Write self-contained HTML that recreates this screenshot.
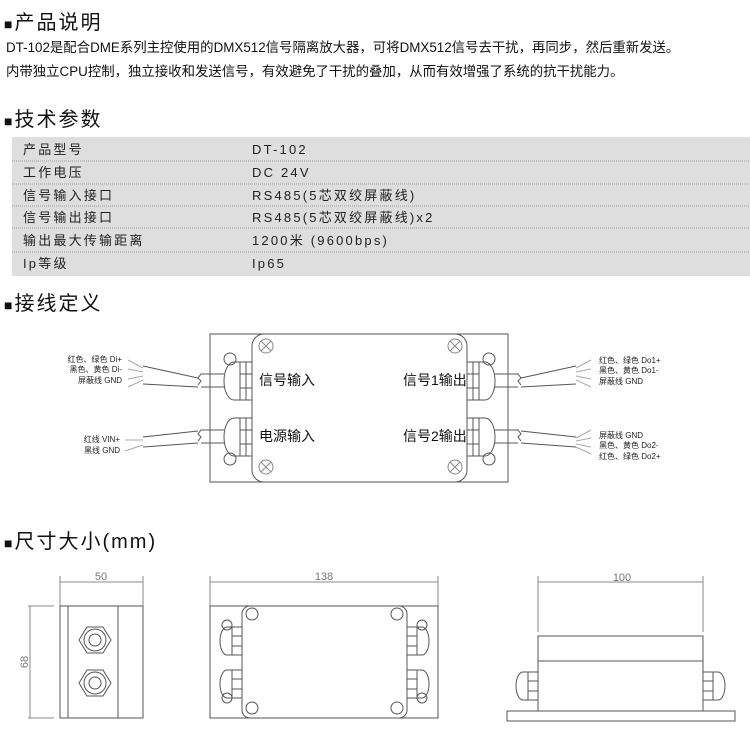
<!DOCTYPE html>
<html><head><meta charset="utf-8"><style>
body{margin:0;background:#fff;width:750px;height:752px;overflow:hidden}
svg{display:block}
.h{font-family:"Liberation Sans","Noto Sans CJK SC",sans-serif;font-size:20px;fill:#111;letter-spacing:2px}
.sq{font-size:14px}
.p{font-family:"Liberation Sans","Noto Sans CJK SC",sans-serif;font-size:13.4px;fill:#111}
.t{font-family:"Liberation Sans","Noto Sans CJK SC",sans-serif;font-size:13px;fill:#222;letter-spacing:2.2px}
.s{font-family:"Liberation Sans","Noto Sans CJK SC",sans-serif;font-size:8px;fill:#222}
.l{font-family:"Liberation Sans","Noto Sans CJK SC",sans-serif;font-size:14px;fill:#111}
.d{font-family:"Liberation Sans",sans-serif;font-size:11px;fill:#777}
.k{fill:none;stroke:#555;stroke-width:1}
.g{fill:none;stroke:#888;stroke-width:1}
</style></head><body>
<svg width="750" height="752" viewBox="0 0 750 752">
<text class="h" x="4" y="29"><tspan class="sq">■</tspan>产品说明</text>
<text class="p" x="6" y="52">DT-102是配合DME系列主控使用的DMX512信号隔离放大器，可将DMX512信号去干扰，再同步，然后重新发送。</text>
<text class="p" x="6" y="76">内带独立CPU控制，独立接收和发送信号，有效避免了干扰的叠加，从而有效增强了系统的抗干扰能力。</text>
<text class="h" x="4" y="126"><tspan class="sq">■</tspan>技术参数</text>
<rect x="12" y="137" width="738" height="139" fill="#dedede"/>
<g stroke="#999" stroke-dasharray="1,1">
<line x1="12" y1="161" x2="750" y2="161"/><line x1="12" y1="184" x2="750" y2="184"/><line x1="12" y1="206" x2="750" y2="206"/><line x1="12" y1="228" x2="750" y2="228"/><line x1="12" y1="252" x2="750" y2="252"/></g>
<g class="t">
<text x="23" y="154">产品型号</text><text x="252" y="154">DT-102</text>
<text x="23" y="177">工作电压</text><text x="252" y="177">DC 24V</text>
<text x="23" y="200">信号输入接口</text><text x="252" y="200">RS485(5芯双绞屏蔽线)</text>
<text x="23" y="222">信号输出接口</text><text x="252" y="222">RS485(5芯双绞屏蔽线)x2</text>
<text x="23" y="245">输出最大传输距离</text><text x="252" y="245">1200米 (9600bps)</text>
<text x="23" y="268">Ip等级</text><text x="252" y="268">Ip65</text></g>
<text class="h" x="4" y="310"><tspan class="sq">■</tspan>接线定义</text>
<rect class="k" x="210" y="334" width="298" height="148"/>
<rect class="k" x="252" y="334" width="215" height="148" rx="12"/>
<g class="g"><circle cx="266" cy="346" r="7"/><circle cx="266" cy="467" r="7"/><circle cx="455" cy="346" r="7"/><circle cx="455" cy="467" r="7"/>
<path d="M261 341l10 10M271 341l-10 10M261 462l10 10M271 462l-10 10M450 341l10 10M460 341l-10 10M450 462l10 10M460 462l-10 10"/></g>
<g class="k">
<rect x="240" y="362" width="12" height="38"/><path d="M240 362h-6a10 19 0 0 0 0 38h6M246 362v38M240 374h12M240 388h12"/><circle cx="230" cy="359" r="6"/>
<rect x="240" y="418" width="12" height="38"/><path d="M240 418h-6a10 19 0 0 0 0 38h6M246 418v38M240 430h12M240 444h12"/><circle cx="230" cy="459" r="6"/>
<rect x="467" y="362" width="12" height="38"/><path d="M479 362h6a10 19 0 0 1 0 38h-6M473 362v38M467 374h12M467 388h12"/><circle cx="489" cy="359" r="6"/>
<rect x="467" y="418" width="12" height="38"/><path d="M479 418h6a10 19 0 0 1 0 38h-6M473 418v38M467 430h12M467 444h12"/><circle cx="489" cy="459" r="6"/>
<path d="M224 374h-23l-3 4 3 3-3 4M224 387h-23M198 378l-55-12M198 387l-55 -3"/>
<path d="M224 430h-23l-3 4 3 3-3 4M224 443h-23M198 431l-55 6M198 443l-55 4"/>
<path d="M495 374h23l3 4-3 3 3 4M495 387h23M521 378l55-12M521 387l55-3"/>
<path d="M495 430h23l3 4-3 3 3 4M495 443h23M521 431l55 6M521 443l55 4"/>
</g>
<g stroke="#aaa" fill="none"><path d="M143 368l-15-8M143 372l-15-3M143 376l-15 3M143 380l-15 7"/><path d="M143 440l-18 0M143 445l-18 6"/>
<path d="M576 368l15-8M576 372l15-3M576 376l15 3M576 380l15 7"/><path d="M576 438l15-8M576 441l15-3M576 444l15 3M576 447l15 7"/></g>
<g class="s" text-anchor="end"><text x="122" y="362">红色、绿色 Di+</text><text x="122" y="372">黑色、黄色 Di-</text><text x="122" y="383">屏蔽线 GND</text>
<text x="120" y="442">红线 VIN+</text><text x="120" y="453">黑线 GND</text></g>
<g class="s"><text x="599" y="363">红色、绿色 Do1+</text><text x="599" y="373">黑色、黄色 Do1-</text><text x="599" y="384">屏蔽线 GND</text>
<text x="599" y="438">屏蔽线 GND</text><text x="599" y="448">黑色、黄色 Do2-</text><text x="599" y="459">红色、绿色 Do2+</text></g>
<g class="l"><text x="259" y="385">信号输入</text><text x="259" y="441">电源输入</text><text x="403" y="385">信号1输出</text><text x="403" y="441">信号2输出</text></g>
<text class="h" x="4" y="548"><tspan class="sq">■</tspan>尺寸大小(mm)</text>
<g class="g">
<path d="M60 576v30M143 576v30M60 582h83M210 576v30M438 576v30M210 582h228M538 576v56M703 576v56M538 582h165M28 606h26M28 718h26M30 606v112"/>
</g>
<g class="d" text-anchor="middle"><text x="101" y="580">50</text><text x="324" y="580">138</text><text x="622" y="581">100</text><text transform="translate(28 662) rotate(-90)" text-anchor="middle">68</text></g>
<g class="k">
<rect x="60" y="606" width="83" height="112"/><path d="M68 606v112M118 606v112"/>
<polygon points="79,640 87,627 103,627 111,640 103,653 87,653"/><circle cx="95" cy="640" r="11"/><circle cx="95" cy="640" r="6"/>
<polygon points="79,683 87,670 103,670 111,683 103,696 87,696"/><circle cx="95" cy="683" r="11"/><circle cx="95" cy="683" r="6"/>
<rect x="210" y="606" width="228" height="112"/><rect x="242" y="606" width="165" height="112" rx="8"/>
<circle cx="252" cy="614" r="6"/><circle cx="397" cy="614" r="6"/><circle cx="252" cy="708" r="6"/><circle cx="397" cy="708" r="6"/>
<rect x="232" y="627" width="10" height="28"/><path d="M232 627h-5a7 14 0 0 0 0 28h5M232 636h10M232 646h10"/><circle cx="227" cy="625" r="5"/>
<rect x="232" y="670" width="10" height="28"/><path d="M232 670h-5a7 14 0 0 0 0 28h5M232 679h10M232 689h10"/><circle cx="227" cy="698" r="5"/>
<rect x="407" y="627" width="10" height="28"/><path d="M417 627h5a7 14 0 0 1 0 28h-5M407 636h10M407 646h10"/><circle cx="422" cy="625" r="5"/>
<rect x="407" y="670" width="10" height="28"/><path d="M417 670h5a7 14 0 0 1 0 28h-5M407 679h10M407 689h10"/><circle cx="422" cy="698" r="5"/>
<rect x="538" y="636" width="165" height="25"/><rect x="538" y="661" width="165" height="50"/><rect x="507" y="711" width="228" height="10"/>
<rect x="528" y="672" width="10" height="28"/><path d="M528 672h-5a7 14 0 0 0 0 28h5M528 681h10M528 691h10"/>
<rect x="703" y="672" width="10" height="28"/><path d="M713 672h5a7 14 0 0 1 0 28h-5M703 681h10M703 691h10"/>
</g>
</svg>
</body></html>
